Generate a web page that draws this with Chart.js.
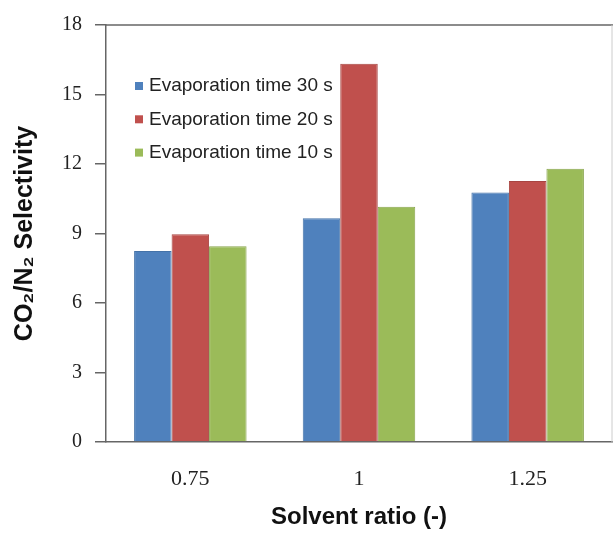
<!DOCTYPE html>
<html><head><meta charset="utf-8">
<script src="https://cdn.jsdelivr.net/npm/chart.js@4.4.1/dist/chart.umd.min.js"></script>
<style>html,body{margin:0;padding:0;background:#fff;overflow:hidden}</style>
</head><body>
<canvas id="c" width="613" height="544"></canvas>
<script>
const categories = ['0.75', '1', '1.25'];
const seriesNames = ['Evaporation time 30 s', 'Evaporation time 20 s', 'Evaporation time 10 s'];
const time30 = [8.25, 9.66, 10.77];
const time20 = [8.97, 16.33, 11.27];
const time10 = [8.45, 10.15, 11.80];
const yMin = 0, yMax = 18, yStep = 3;
const xTitle = 'Solvent ratio (-)';
const yTitle = 'CO\u2082/N\u2082 Selectivity';

const fills = ['#4F81BD', '#C0504D', '#9BBB59'];
const edges = ['#4472A8', '#A84542', '#88A54D'];
const seriesValues = [time30, time20, time10];

const insideLegend = {
  id: 'insideLegend',
  afterDatasetsDraw(chart) {
    const ctx = chart.ctx, a = chart.chartArea;
    ctx.save();
    ctx.font = '19px "Liberation Sans", Arial, sans-serif';
    ctx.textBaseline = 'middle';
    ctx.textAlign = 'left';
    chart.data.datasets.forEach((ds, i) => {
      const y = a.top + 61 + i * 33.3;
      const x = a.left + 29;
      ctx.fillStyle = ds.backgroundColor;
      ctx.fillRect(x, y - 4, 8, 8);
      ctx.fillStyle = '#222';
      ctx.fillText(ds.label, x + 14, y);
    });
    ctx.restore();
  }
};
const frame = {
  id: 'frame',
  afterDraw(chart) {
    const ctx = chart.ctx, a = chart.chartArea;
    ctx.save();
    ctx.strokeStyle = '#666';
    ctx.lineWidth = 1.5;
    ctx.beginPath();
    ctx.moveTo(a.left, a.top);
    ctx.lineTo(a.right + 2, a.top);
    ctx.stroke();
    ctx.strokeStyle = '#ccc';
    ctx.lineWidth = 1;
    ctx.beginPath();
    ctx.moveTo(a.right, a.top);
    ctx.lineTo(a.right, a.bottom);
    ctx.stroke();
    ctx.restore();
  }
};

new Chart(document.getElementById('c'), {
  type: 'bar',
  data: {
    labels: categories,
    datasets: seriesNames.map((n, i) => ({
      label: n,
      data: seriesValues[i],
      backgroundColor: fills[i],
      borderColor: edges[i],
      borderWidth: 1,
      categoryPercentage: 0.667,
      barPercentage: 1.0
    }))
  },
  options: {
    responsive: false,
    animation: false,
    devicePixelRatio: 1,
    layout: { padding: { top: 21, right: 1, left: 0, bottom: 0 } },
    plugins: { legend: { display: false }, tooltip: { enabled: false } },
    scales: {
      x: {
        grid: { display: false, drawTicks: false },
        border: { display: true, color: '#666', width: 1.5 },
        ticks: { color: '#222', padding: 24, font: { family: '"Liberation Serif", "Times New Roman", serif', size: 22 } },
        title: { display: true, text: xTitle, color: '#111', padding: { top: 0, bottom: 12 },
                 font: { family: '"Liberation Sans", Arial, sans-serif', size: 24, weight: 'bold' } },
        afterFit(s) { s.height = 102; }
      },
      y: {
        min: yMin, max: yMax,
        grid: { display: true, drawOnChartArea: false, drawTicks: true, tickLength: 11, color: '#666', lineWidth: 1.5 },
        border: { display: true, color: '#666', width: 1.5 },
        ticks: { stepSize: yStep, color: '#222', padding: 13, font: { family: '"Liberation Serif", "Times New Roman", serif', size: 20 } },
        title: { display: true, text: yTitle, color: '#111', padding: { top: 10, bottom: 0 },
                 font: { family: '"Liberation Sans", Arial, sans-serif', size: 25, weight: 'bold' } },
        afterFit(s) { s.width = 106; }
      }
    }
  },
  plugins: [insideLegend, frame]
});
</script>
</body></html>
